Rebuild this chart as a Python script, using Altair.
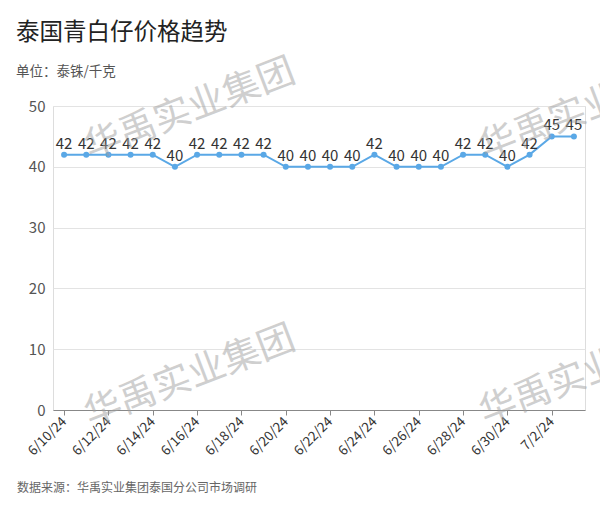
import altair as alt
import pandas as pd

dates = ["6/10/24", "6/11/24", "6/12/24", "6/13/24", "6/14/24", "6/15/24", "6/16/24",
         "6/17/24", "6/18/24", "6/19/24", "6/20/24", "6/21/24", "6/22/24", "6/23/24",
         "6/24/24", "6/25/24", "6/26/24", "6/27/24", "6/28/24", "6/29/24", "6/30/24",
         "7/1/24", "7/2/24", "7/3/24"]
prices = [42, 42, 42, 42, 42, 40, 42, 42, 42, 42, 40, 40, 40, 40, 42, 40, 40, 40,
          42, 42, 40, 42, 45, 45]
tick_dates = dates[::2]
y_ticks = [0, 10, 20, 30, 40, 50]

title_text = "泰国青白仔价格趋势"
subtitle_text = "单位：泰铢/千克"
source_text = "数据来源：华禹实业集团泰国分公司市场调研"
watermark_text = "华禹实业集团"

FONT = "Noto Sans CJK SC"
LINE = "#5AA8E6"

df = pd.DataFrame({"date": dates, "price": prices})

x = alt.X("date:O", sort=dates,
          scale=alt.Scale(type="point", padding=0.5),
          axis=alt.Axis(values=tick_dates, labelAngle=-45, labelAlign="right",
                        labelBaseline="middle", labelFontSize=13.5, labelColor="#333",
                        labelFont=FONT, labelPadding=4, domainColor="#888",
                        tickColor="#888", tickSize=5, grid=False, title=None))
y = alt.Y("price:Q", scale=alt.Scale(domain=[0, 50], nice=False),
          axis=alt.Axis(values=y_ticks, labelFontSize=15, labelColor="#555",
                        labelFont=FONT, labelPadding=8, domain=False, ticks=False,
                        gridColor="#e3e3e3", title=None))

base = alt.Chart(df).encode(x=x, y=y)
line = base.mark_line(color=LINE, strokeWidth=2)
pts = base.mark_circle(color=LINE, size=36, opacity=1)
labels = base.mark_text(font=FONT, fontSize=15, color="#333", baseline="bottom",
                        dy=-3).encode(text="price:Q")


def free_text(txt, px, py, size, color):
    return alt.Chart(pd.DataFrame({"t": [txt]})).mark_text(
        font=FONT, fontSize=size, color=color, align="left", baseline="middle"
    ).encode(x=alt.value(px), y=alt.value(py), text="t:N")


title = free_text(title_text, -37, -73, 23.5, "#222")
subtitle = free_text(subtitle_text, -37, -34, 13.5, "#555")
footer = free_text(source_text, -36, 382, 12, "#666")

wms = []
for px, py in [(137, 4), (137, 271), (532, 4), (532, 269)]:
    wms.append(alt.Chart(pd.DataFrame({"t": [watermark_text]})).mark_text(
        font=FONT, fontSize=37, color="#a0a0a0", opacity=0.5, angle=339,
        align="center", baseline="middle"
    ).encode(x=alt.value(px), y=alt.value(py), text="t:N"))

chart = alt.layer(line, pts, labels, title, subtitle, footer, *wms).properties(
    width=532, height=304,
    autosize=alt.AutoSizeParams(type="none"),
    padding={"left": 53, "top": 106, "right": 15, "bottom": 100},
).configure_view(stroke=None).configure(background="white")

chart.save("out.html", embed_options={"renderer": "svg", "actions": False})
